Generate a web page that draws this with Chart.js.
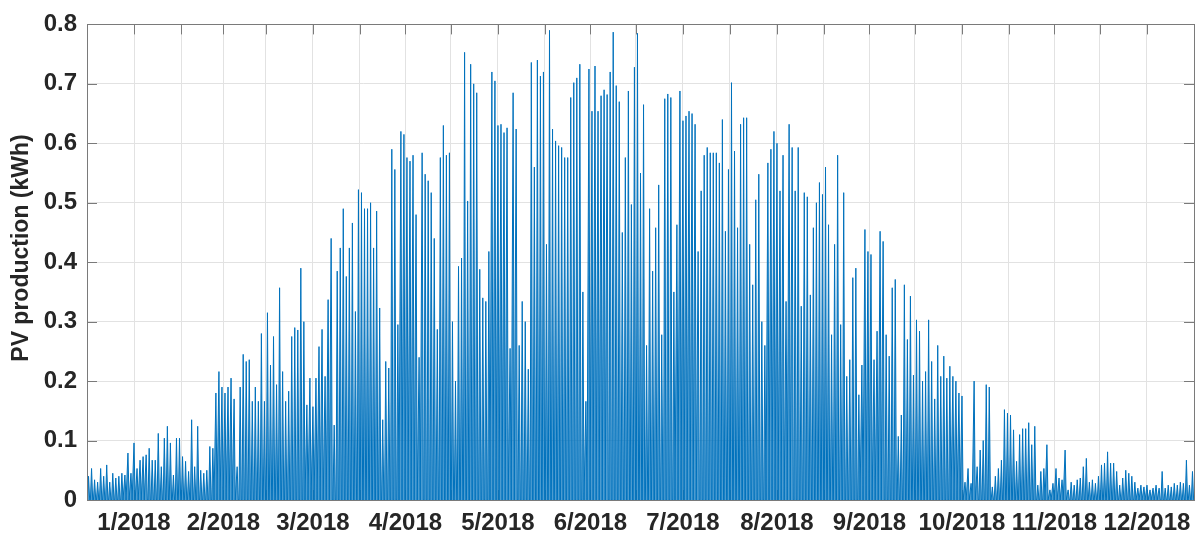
<!DOCTYPE html>
<html>
<head>
<meta charset="utf-8">
<script src="https://cdn.jsdelivr.net/npm/chart.js@4/dist/chart.umd.min.js"></script>
<style>
  html, body { margin: 0; padding: 0; background: #fff; }
</style>
</head>
<body>
<canvas id="pvChart" width="1203" height="539"></canvas>
<script>
// daily peak PV production (kWh), one value per day
const jan = [0.04, 0.053, 0.034, 0.03, 0.053, 0.04, 0.059, 0.03, 0.045, 0.037, 0.04, 0.045, 0.042, 0.079, 0.045, 0.096, 0.053, 0.067, 0.073, 0.076, 0.087, 0.067, 0.067, 0.112, 0.056, 0.104, 0.124, 0.096, 0.042, 0.104, 0.104];
const feb = [0.073, 0.065, 0.048, 0.135, 0.056, 0.124, 0.05, 0.045, 0.05, 0.09, 0.087, 0.18, 0.216, 0.19, 0.18, 0.19, 0.205, 0.17, 0.056, 0.19, 0.245, 0.233, 0.236, 0.166, 0.19, 0.166, 0.28, 0.166];
const mar = [0.315, 0.227, 0.275, 0.194, 0.357, 0.216, 0.166, 0.183, 0.275, 0.29, 0.286, 0.39, 0.30, 0.16, 0.205, 0.157, 0.205, 0.258, 0.287, 0.208, 0.337, 0.44, 0.126, 0.385, 0.424, 0.49, 0.376, 0.424, 0.466, 0.317, 0.522];
const apr = [0.517, 0.49, 0.49, 0.5, 0.424, 0.486, 0.323, 0.135, 0.233, 0.222, 0.59, 0.556, 0.295, 0.62, 0.615, 0.576, 0.57, 0.58, 0.48, 0.24, 0.584, 0.548, 0.537, 0.517, 0.44, 0.287, 0.576, 0.63, 0.58, 0.584];
const may = [0.3, 0.2, 0.393, 0.407, 0.753, 0.503, 0.733, 0.7, 0.685, 0.388, 0.34, 0.334, 0.418, 0.72, 0.705, 0.63, 0.632, 0.618, 0.626, 0.255, 0.685, 0.624, 0.26, 0.334, 0.3, 0.22, 0.736, 0.56, 0.74, 0.713, 0.72];
const jun = [0.43, 0.79, 0.624, 0.604, 0.596, 0.593, 0.576, 0.576, 0.677, 0.702, 0.71, 0.733, 0.35, 0.166, 0.725, 0.654, 0.73, 0.654, 0.68, 0.69, 0.682, 0.72, 0.787, 0.697, 0.67, 0.45, 0.576, 0.688, 0.497, 0.728];
const jul = [0.785, 0.55, 0.665, 0.26, 0.49, 0.385, 0.458, 0.53, 0.278, 0.675, 0.683, 0.677, 0.35, 0.463, 0.688, 0.638, 0.646, 0.654, 0.65, 0.632, 0.418, 0.52, 0.58, 0.593, 0.584, 0.584, 0.584, 0.567, 0.64, 0.452, 0.556];
const aug = [0.702, 0.587, 0.458, 0.632, 0.643, 0.643, 0.43, 0.362, 0.505, 0.548, 0.3, 0.26, 0.567, 0.59, 0.62, 0.6, 0.52, 0.58, 0.334, 0.632, 0.593, 0.52, 0.593, 0.326, 0.517, 0.51, 0.345, 0.458, 0.5, 0.534, 0.514];
const sep = [0.56, 0.463, 0.278, 0.43, 0.58, 0.295, 0.517, 0.208, 0.236, 0.374, 0.39, 0.177, 0.227, 0.455, 0.418, 0.413, 0.236, 0.284, 0.452, 0.435, 0.278, 0.242, 0.357, 0.371, 0.107, 0.143, 0.362, 0.27, 0.343, 0.21];
const oct = [0.303, 0.284, 0.2, 0.216, 0.303, 0.233, 0.17, 0.26, 0.208, 0.242, 0.205, 0.225, 0.208, 0.2, 0.18, 0.175, 0.03, 0.053, 0.028, 0.2, 0.056, 0.084, 0.1, 0.194, 0.19, 0.022, 0.04, 0.053, 0.067, 0.152, 0.146];
const nov = [0.143, 0.118, 0.065, 0.11, 0.12, 0.12, 0.13, 0.093, 0.124, 0.025, 0.048, 0.053, 0.093, 0.017, 0.028, 0.053, 0.037, 0.034, 0.084, 0.017, 0.03, 0.025, 0.034, 0.037, 0.056, 0.07, 0.03, 0.034, 0.028, 0.04];
const dec = [0.059, 0.062, 0.081, 0.062, 0.062, 0.048, 0.025, 0.037, 0.05, 0.045, 0.04, 0.03, 0.02, 0.025, 0.022, 0.025, 0.017, 0.02, 0.025, 0.02, 0.048, 0.02, 0.025, 0.022, 0.028, 0.025, 0.03, 0.028, 0.067, 0.025, 0.048];

const monthLabels = ['1/2018', '2/2018', '3/2018', '4/2018', '5/2018', '6/2018', '7/2018', '8/2018', '9/2018', '10/2018', '11/2018', '12/2018'];
const monthDays = [31, 28, 31, 30, 31, 30, 31, 31, 30, 31, 30, 31];
const yTitle = 'PV production (kWh)';

const dailyPeak = [].concat(jan, feb, mar, apr, may, jun, jul, aug, sep, oct, nov, dec);

const monthStart = [];
let acc = 0;
monthDays.forEach(n => { monthStart.push(acc); acc += n; });
const monthMid = monthStart.map((s, i) => s + monthDays[i] / 2);

// night = 0, daytime peak in the middle of each day
const spikes = [];
dailyPeak.forEach((p, d) => {
    spikes.push({ x: d + 0.12, y: 0 }, { x: d + 0.5, y: p }, { x: d + 0.88, y: 0 });
});

const textColor = '#262626';
const axisColor = '#7a7a7a';
const gridColor = '#e2e2e2';
const tickFont = { family: 'Liberation Sans, Arial, sans-serif', size: 24, weight: 'bold' };

const matlabAxes = {
    id: 'matlabAxes',
    beforeDatasetsDraw(chart) {
        const { ctx, chartArea: a, scales } = chart;
        ctx.save();
        ctx.strokeStyle = axisColor;
        ctx.lineWidth = 1;
        ctx.beginPath();
        scales.x.ticks.forEach(t => {
            const px = Math.round(scales.x.getPixelForValue(t.value)) + 0.5;
            ctx.moveTo(px, a.top); ctx.lineTo(px, a.top + 10);
            ctx.moveTo(px, a.bottom); ctx.lineTo(px, a.bottom - 10);
        });
        scales.y.ticks.forEach(t => {
            const py = Math.round(scales.y.getPixelForValue(t.value)) + 0.5;
            ctx.moveTo(a.left, py); ctx.lineTo(a.left + 10, py);
            ctx.moveTo(a.right, py); ctx.lineTo(a.right - 10, py);
        });
        ctx.stroke();
        ctx.restore();
    },
    afterDatasetsDraw(chart) {
        const { ctx, chartArea: a } = chart;
        ctx.save();
        ctx.strokeStyle = axisColor;
        ctx.lineWidth = 1;
        ctx.strokeRect(Math.round(a.left) + 0.5, Math.round(a.top) + 0.5, Math.round(a.right - a.left), Math.round(a.bottom - a.top));
        ctx.restore();
    },
    afterDraw(chart) {
        const { ctx } = chart;
        ctx.save();
        ctx.translate(22, 248);
        ctx.rotate(-Math.PI / 2);
        ctx.font = 'bold 23px "Liberation Sans", Arial, sans-serif';
        ctx.fillStyle = textColor;
        ctx.textAlign = 'center';
        ctx.textBaseline = 'middle';
        ctx.fillText(yTitle, 0, 0);
        ctx.restore();
    }
};

new Chart(document.getElementById('pvChart'), {
    type: 'line',
    data: {
        datasets: [{
            data: spikes,
            borderColor: '#0072BD',
            backgroundColor: 'rgba(0, 114, 189, 0.7)',
            borderWidth: 1,
            pointRadius: 0,
            fill: 'origin',
            tension: 0
        }]
    },
    options: {
        responsive: false,
        animation: false,
        events: [],
        layout: { padding: { top: 20, right: 6, left: 0, bottom: 0 } },
        plugins: { legend: { display: false }, tooltip: { enabled: false } },
        scales: {
            x: {
                type: 'linear', min: 0, max: 365,
                afterBuildTicks: (scale) => {
                    const t = [];
                    monthStart.forEach((s, i) => { t.push({ value: s }); t.push({ value: monthMid[i] }); });
                    t.push({ value: 365 });
                    scale.ticks = t;
                },
                afterFit: (s) => { s.height = 39; },
                ticks: {
                    autoSkip: false, maxRotation: 0, minRotation: 0, padding: 9,
                    font: tickFont, color: textColor,
                    callback: (v) => {
                        const i = monthMid.findIndex(m => Math.abs(m - v) < 0.01);
                        return i >= 0 ? monthLabels[i] : '';
                    }
                },
                grid: { color: gridColor, drawTicks: false },
                border: { display: false }
            },
            y: {
                min: 0, max: 0.8,
                afterFit: (s) => { s.width = 87; },
                ticks: {
                    stepSize: 0.1, padding: 10,
                    font: tickFont, color: textColor,
                    callback: (v) => v === 0 ? '0' : v.toFixed(1)
                },
                grid: { color: gridColor, drawTicks: false },
                border: { display: false }
            }
        }
    },
    plugins: [matlabAxes]
});
</script>
</body>
</html>
